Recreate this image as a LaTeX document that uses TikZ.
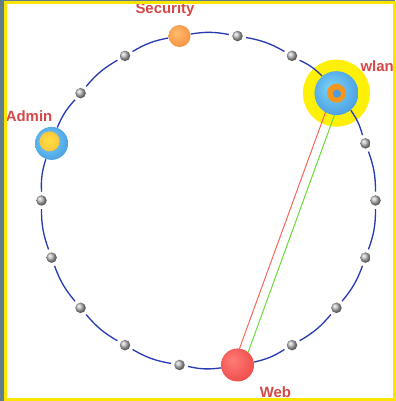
\documentclass[tikz,border=0pt]{standalone}
\usepackage{fontspec}
\setsansfont{Liberation Sans}
\usetikzlibrary{positioning,backgrounds}
\definecolor{slate}{RGB}{98,126,138}
\definecolor{frameyellow}{RGB}{250,228,0}
\definecolor{ringblue}{RGB}{40,58,180}
\definecolor{lblred}{RGB}{214,72,72}
\definecolor{linkred}{RGB}{250,100,85}
\definecolor{linkgreen}{RGB}{100,220,50}
\definecolor{ballcyan}{RGB}{125,215,248}
\definecolor{ballblue}{RGB}{38,118,212}
\definecolor{coreyellow}{RGB}{255,222,70}
\definecolor{coreorange}{RGB}{242,150,30}
\definecolor{secin}{RGB}{255,190,110}
\definecolor{secout}{RGB}{238,118,35}
\definecolor{webin}{RGB}{255,125,120}
\definecolor{webout}{RGB}{228,45,45}
\definecolor{haloyellow}{RGB}{255,240,10}
\definecolor{haloedge}{RGB}{255,248,150}
\pgfdeclareradialshading{blueball}{\pgfpoint{-6bp}{6bp}}{color(0bp)=(ballcyan); color(50bp)=(ballblue)}
\pgfdeclareradialshading{coreball}{\pgfpoint{-5bp}{5bp}}{color(0bp)=(coreyellow); color(50bp)=(coreorange)}
\pgfdeclareradialshading{secshade}{\pgfpoint{-8bp}{8bp}}{color(0bp)=(secin); color(50bp)=(secout)}
\pgfdeclareradialshading{webshade}{\pgfpoint{-8bp}{8bp}}{color(0bp)=(webin); color(50bp)=(webout)}
\pgfdeclareradialshading{haloshade}{\pgfpoint{0bp}{0bp}}{color(0bp)=(haloyellow); color(42bp)=(haloyellow); color(50bp)=(haloedge)}
\tikzset{
  dot/.style={circle, inner sep=0pt, minimum size=2.1mm, outer sep=0.7mm, shading=ball, ball color=gray!55},
  secball/.style={circle, inner sep=0pt, minimum size=4.4mm, shading=secshade},
  webball/.style={circle, inner sep=0pt, minimum size=6.6mm, shading=webshade},
  adminball/.style={circle, inner sep=0pt, minimum size=6.6mm, shading=blueball,
    path picture={\shade[shading=coreball] ([shift={(-0.4mm,0.4mm)}]path picture bounding box.center) circle (2mm);}},
  wlanball/.style={circle, inner sep=0pt, minimum size=8.8mm, shading=blueball,
    path picture={\fill[coreorange] (path picture bounding box.center) circle (1.9mm);
      \fill[ballblue!60!ballcyan] ([shift={(0.1mm,-0.1mm)}]path picture bounding box.center) circle (0.8mm);}},
  lbl/.style={inner sep=0pt, text=lblred, font=\sffamily\bfseries\fontsize{8.5}{10}\selectfont},
  ring/.style={ringblue, line width=0.75pt},
  link/.style={line width=0.55pt}
}
\begin{document}
\begin{tikzpicture}[x=0.2mm, y=0.2mm]
\useasboundingbox (0,0) rectangle (395,401);
% stations round the ring
\begin{scope}[shift={(208.5,200.5)}]
\foreach \k in {0,1,3,4,6,7,9,10,11,12,13,15,16,17}
  \node[dot] (n\k) at (\k*20:167) {};
\node[wlanball, alias=n2] (wlan) at (40:167) {};
\node[secball, alias=n5] (sec) at (100:167) {};
\node[adminball, alias=n8] (admin) at (160:167) {};
\node[webball, alias=n14] (web) at (280:167) {};
\end{scope}
\node[lbl, above=1.6mm of sec, xshift=-2.9mm] (seclbl) {Security};
\node[lbl, above=1mm of admin, xshift=-4.5mm] (adminlbl) {Admin};
\node[lbl, above right=1.1mm and 1.6mm of wlan] (wlanlbl) {wlan};
\node[lbl, below right=1.8mm and 2mm of web] (weblbl) {Web};
\begin{scope}[on background layer]
\fill[slate] (0,0) rectangle (395,401);
\fill[white] (5,1.5) rectangle (394,398);
\shade[shading=haloshade] (wlan) circle (6.7mm);
\foreach \k in {0,...,17}{
  \pgfmathtruncatemacro\nxt{mod(\k+1,18)}
  \draw[ring] (n\k) to[bend right=10] (n\nxt);
}
\draw[link, linkred] ([xshift=-0.8mm]wlan.center) -- ([xshift=-0.8mm]web.center);
\draw[link, linkgreen] ([xshift=1.2mm]wlan.center) -- ([xshift=1.2mm]web.center);
\end{scope}
\draw[frameyellow, line width=0.6mm] (5,1.5) rectangle (394,398);
\end{tikzpicture}
\end{document}
